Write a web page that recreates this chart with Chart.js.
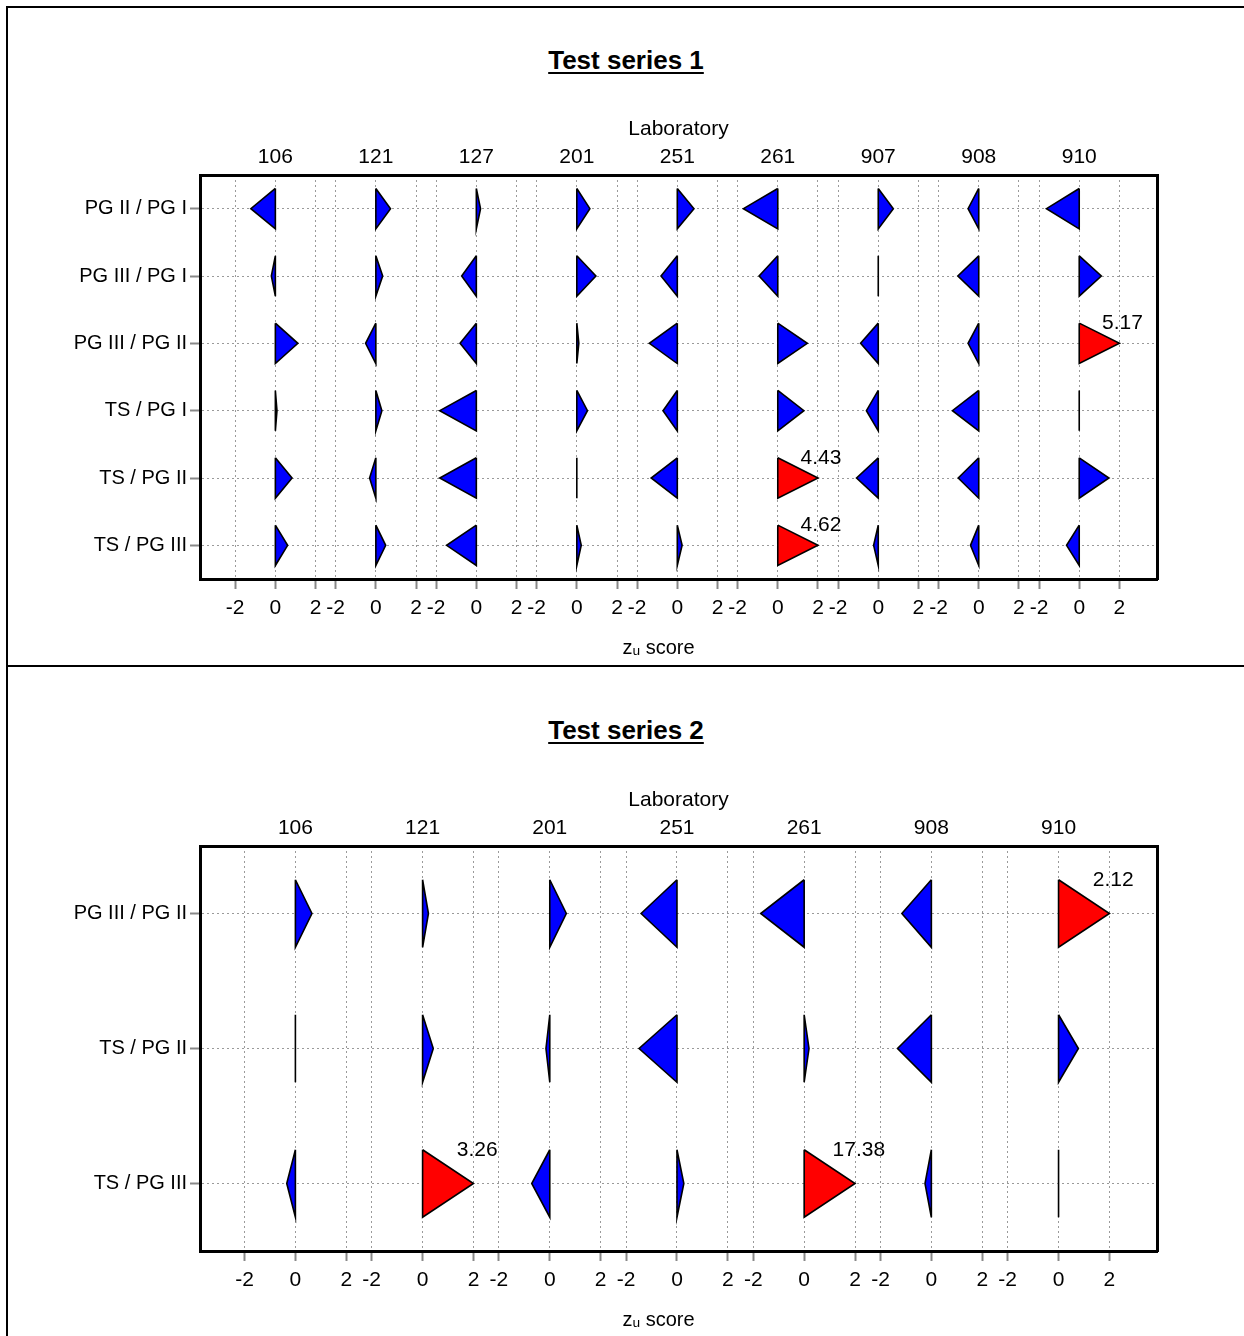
<!DOCTYPE html>
<html>
<head>
<meta charset="utf-8">
<script src="https://cdn.jsdelivr.net/npm/chart.js@4.4.0/dist/chart.umd.min.js"></script>
<style>
  html, body { margin: 0; padding: 0; background: #fff; overflow: hidden; }
  body { width: 1244px; height: 1336px; position: relative; font-family: 'Liberation Sans', Arial, sans-serif; }
  .rule { position: absolute; background: #000; }
  .ttl { position: absolute; left: 0; width: 1252px; text-align: center; font-weight: bold; font-size: 26px;
         line-height: 30px; text-decoration: underline; text-decoration-thickness: 2px; text-underline-offset: 3px; }
  canvas { position: absolute; left: 0; }
</style>
</head>
<body>
<div class="rule" style="left:6px;top:6px;width:1240px;height:2px"></div>
<div class="rule" style="left:6px;top:6px;width:2px;height:1330px"></div>
<div class="rule" style="left:6px;top:665px;width:1240px;height:2px"></div>
<div class="ttl" style="top:45px">Test series 1</div>
<div class="ttl" style="top:715px">Test series 2</div>
<canvas id="chart-s1" width="1244" height="577" style="top:85px"></canvas>
<canvas id="chart-s2" width="1244" height="578" style="top:756px"></canvas>
<script>
// zu scores per ratio (rows) and laboratory (columns); |zu| > 2 is drawn capped and labelled
const FONT = "'Liberation Sans', Arial, sans-serif";
const zTicks = [-2, 0, 2];
const zLimit = 2;
const labSpan = 5;

// ── Test series 1 ─────────────────────────────────────────────────────────
const labs1 = ['106', '121', '127', '201', '251', '261', '907', '908', '910'];
const ratios1 = ['PG II / PG I', 'PG III / PG I', 'PG III / PG II', 'TS / PG I', 'TS / PG II', 'TS / PG III'];
const zu1 = [
  [-1.22,  0.73,  0.21,  0.65,  0.83, -1.71,  0.75, -0.53, -1.63],
  [-0.20,  0.34, -0.73,  0.95, -0.81, -0.93,  0.00, -1.04,  1.10],
  [ 1.12, -0.51, -0.81,  0.10, -1.39,  1.47, -0.88, -0.53,  5.17],
  [ 0.08,  0.30, -1.82,  0.53, -0.71,  1.30, -0.59, -1.31,  0.00],
  [ 0.83, -0.31, -1.82,  0.00, -1.30,  4.43, -1.08, -1.02,  1.48],
  [ 0.61,  0.49, -1.48,  0.22,  0.24,  4.62, -0.23, -0.41, -0.63],
];

// ── Test series 2 ─────────────────────────────────────────────────────────
const labs2 = ['106', '121', '201', '251', '261', '908', '910'];
const ratios2 = ['PG III / PG II', 'TS / PG II', 'TS / PG III'];
const zu2 = [
  [ 0.65,  0.23,  0.65, -1.41, -1.71, -1.16,  2.12],
  [ 0.00,  0.42, -0.15, -1.49,  0.19, -1.33,  0.78],
  [-0.34,  3.26, -0.71,  0.27, 17.38, -0.25,  0.00],
];

Chart.defaults.font.family = FONT;
Chart.defaults.color = '#000';

const outlierLabels = {
  id: 'outlierLabels',
  afterDatasetsDraw(chart) {
    const { ctx, scales: { x, y } } = chart;
    ctx.save();
    ctx.font = `21px ${FONT}`;
    ctx.fillStyle = '#000';
    ctx.textAlign = 'center';
    ctx.textBaseline = 'middle';
    chart.data.datasets.forEach(ds => {
      if (ds.outlier == null) return;
      ctx.fillText(ds.outlier.toFixed(2), x.getPixelForValue(ds.data[1].x + 0.15), y.getPixelForValue(ds.data[0].y));
    });
    ctx.restore();
  },
};

function makePanel(canvasId, labs, ratios, zu, half) {
  const xMin = -3.75, xMax = (labs.length - 1) * labSpan + 3.87;
  const yMin = 0.5, yMax = ratios.length + 0.5;

  const datasets = [];
  zu.forEach((row, r) => row.forEach((z, i) => {
    const base = i * labSpan, y = r + 1;
    const tip = base + Math.max(-zLimit, Math.min(zLimit, z));
    const out = Math.abs(z) > zLimit;
    datasets.push({
      data: [{ x: base, y: y - half }, { x: tip, y }, { x: base, y: y + half }, { x: base, y: y - half }],
      xAxisID: 'x', yAxisID: 'y',
      backgroundColor: out ? '#ff0000' : '#0000ff',
      borderColor: '#000', borderWidth: 1.6, borderJoinStyle: 'miter',
      fill: 'shape', pointRadius: 0, tension: 0,
      outlier: out ? z : null,
    });
  }));

  const grid = { color: '#9a9a9a', lineWidth: 1, tickLength: 10, tickColor: '#888', tickWidth: 2, tickBorderDash: [] };
  const border = { display: true, width: 3, color: '#000', dash: [2, 3] };
  const tickFont = { size: 21, family: FONT };

  return new Chart(document.getElementById(canvasId), {
    type: 'line',
    data: { datasets },
    options: {
      responsive: false, animation: false, devicePixelRatio: 1, events: [],
      layout: { padding: 0 },
      plugins: { legend: { display: false }, tooltip: { enabled: false } },
      scales: {
        x: {
          type: 'linear', min: xMin, max: xMax,
          afterBuildTicks: s => { s.ticks = labs.flatMap((_, i) => zTicks.map(t => ({ value: i * labSpan + t }))); },
          afterFit: s => { s.height = 83; },
          ticks: { autoSkip: false, maxRotation: 0, padding: 7, color: '#000', font: tickFont,
                   callback: v => String(Math.round(v - Math.round(v / labSpan) * labSpan)) },
          grid, border,
          // trailing em spaces shift the centred title a little left, as in the original
          title: { display: true, text: 'zᵤ score\u2003\u2003', color: '#000', font: { size: 20, family: FONT }, padding: { top: 0, bottom: 2 } },
        },
        x2: {
          type: 'linear', axis: 'x', position: 'top', min: xMin, max: xMax,
          afterBuildTicks: s => { s.ticks = labs.map((_, i) => ({ value: i * labSpan })); },
          afterFit: s => { s.height = 90; },
          ticks: { autoSkip: false, maxRotation: 0, padding: 5, color: '#000', font: tickFont,
                   callback: v => labs[Math.round(v / labSpan)] },
          grid: { display: false, drawTicks: false },
          border: { display: true, width: 3, color: '#000' },
          title: { display: true, text: 'Laboratory', color: '#000', font: { size: 21, family: FONT }, padding: { top: 32, bottom: 0 } },
        },
        y: {
          type: 'linear', reverse: true, min: yMin, max: yMax,
          afterBuildTicks: s => { s.ticks = ratios.map((_, i) => ({ value: i + 1 })); },
          afterFit: s => { s.width = 200; },
          ticks: { autoSkip: false, padding: 3, color: '#000', font: { size: 20, family: FONT },
                   callback: v => ratios[Math.round(v) - 1] },
          grid, border,
        },
        y2: {
          type: 'linear', axis: 'y', position: 'right', reverse: true, min: yMin, max: yMax,
          afterFit: s => { s.width = 87; },
          ticks: { display: false },
          grid: { display: false, drawTicks: false },
          border: { display: true, width: 3, color: '#000' },
        },
      },
    },
    plugins: [outlierLabels],
  });
}

makePanel('chart-s1', labs1, ratios1, zu1, 0.30);
makePanel('chart-s2', labs2, ratios2, zu2, 0.25);
</script>
</body>
</html>
